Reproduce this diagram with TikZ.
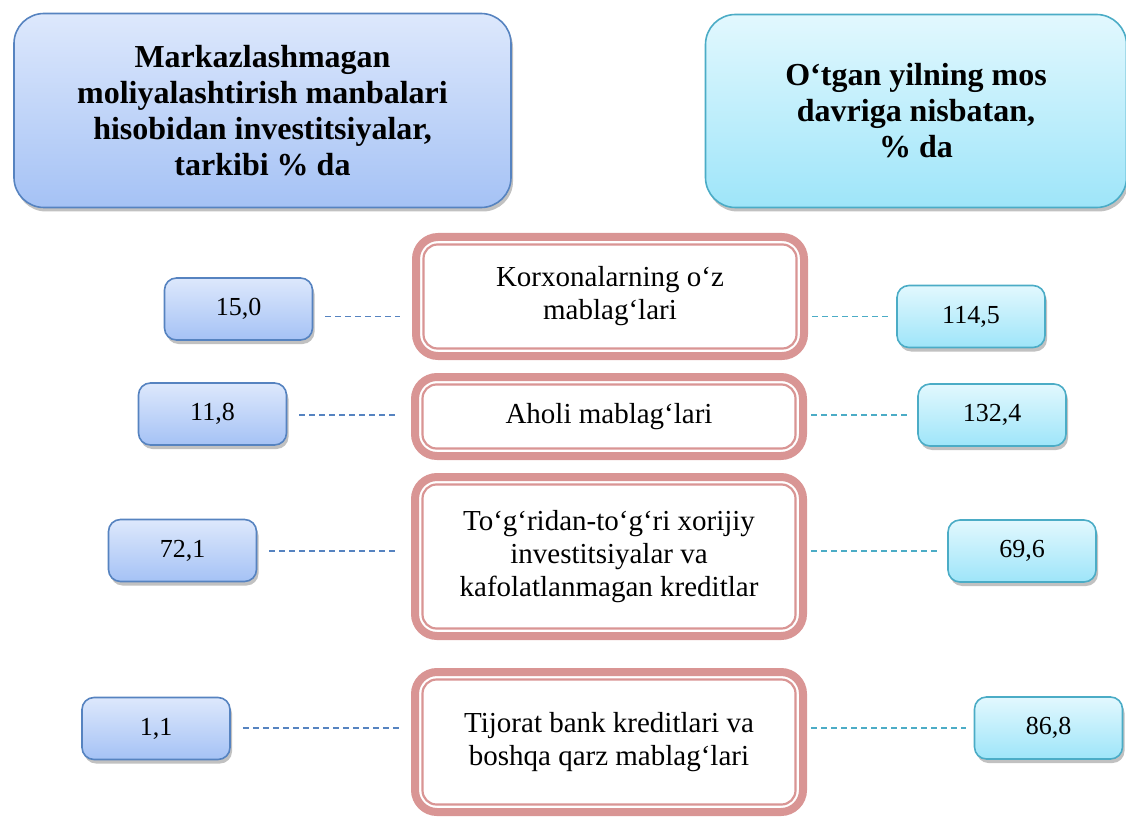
\documentclass[tikz,border=0pt]{standalone}
\usepackage{fontspec}
\setmainfont{Liberation Serif}
\usetikzlibrary{positioning,shadows}

\definecolor{blueline}{HTML}{5683C0}
\definecolor{bluetop}{HTML}{DDE8FC}
\definecolor{bluebot}{HTML}{A5C2F5}
\definecolor{cyanline}{HTML}{4BACC6}
\definecolor{cyantop}{HTML}{E2F8FE}
\definecolor{cyanbot}{HTML}{9EE5F9}
\definecolor{pinkline}{HTML}{D99594}

\begin{document}
\begin{tikzpicture}[x=1pt,y=-1pt,
    shade/.style={drop shadow={shadow xshift=2pt,shadow yshift=-4pt,opacity=.35,fill=black!70}},
    bluebox/.style={shade,draw=blueline,line width=1.6pt,top color=bluetop,bottom color=bluebot},
    cyanbox/.style={shade,draw=cyanline,line width=1.6pt,top color=cyantop,bottom color=cyanbot},
    head/.style={rounded corners=30pt,align=center,font=\bfseries\fontsize{32}{36}\selectfont},
    num/.style={rounded corners=12pt,minimum width=148pt,minimum height=62pt,font=\fontsize{26}{30}\selectfont},
    kbox/.style={draw=pinkline,line width=8pt,rounded corners=22pt,fill=white,minimum width=388pt,align=center,font=\fontsize{29}{33}\selectfont},
    kinner/.style={draw=pinkline,line width=2.2pt,rounded corners=14pt},
    lcon/.style={draw=blueline,line width=1.6pt,dash pattern=on 6pt off 4pt},
    rcon/.style={draw=cyanline,line width=1.6pt,dash pattern=on 6pt off 4pt}]
  \useasboundingbox (0,0) rectangle (1126,818);

  % Headers
  \node[bluebox,head,minimum width=497pt,minimum height=194pt] (hl) at (262.5,110.5)
    {Markazlashmagan\\moliyalashtirish manbalari\\hisobidan investitsiyalar,\\tarkibi \% da};
  \node[cyanbox,head,minimum width=421pt,minimum height=193pt] (hr) at (916,111)
    {O‘tgan yilning mos\\davriga nisbatan,\\\% da};

  % Sources in the middle
  \node[kbox,minimum height=119pt] (c1) at (610,296.5) {Korxonalarning o‘z\\mablag‘lari};
  \node[kbox,minimum height=79pt]  (c2) at (609,416.5) {Aholi mablag‘lari};
  \node[kbox,minimum height=159pt] (c3) at (609,556.5)
    {To‘g‘ridan-to‘g‘ri xorijiy\\investitsiyalar va\\kafolatlanmagan kreditlar};
  \node[kbox,minimum height=140pt] (c4) at (609,742)
    {Tijorat bank kreditlari va\\boshqa qarz mablag‘lari};
  \foreach \i in {1,...,4}
    \draw[kinner] ([shift={(11.5,11.5)}]c\i.north west) rectangle ([shift={(-11.5,-11.5)}]c\i.south east);

  % Shares, % of total
  \node[bluebox,num] (l1) at (238.5,309) {15,0};
  \node[bluebox,num] (l2) at (212.5,414) {11,8};
  \node[bluebox,num] (l3) at (182.5,550.5) {72,1};
  \node[bluebox,num] (l4) at (156,728.5) {1,1};

  % Growth against last year
  \node[cyanbox,num] (r1) at (971,316.5) {114,5};
  \node[cyanbox,num] (r2) at (992,415) {132,4};
  \node[cyanbox,num] (r3) at (1022,551) {69,6};
  \node[cyanbox,num] (r4) at (1048.5,728) {86,8};

  % Dashed links
  \foreach \i in {1,...,4} {
    \draw[lcon,shorten <=12pt,shorten >=12pt] (l\i.east |- r\i) -- (c\i.west |- r\i);
    \draw[rcon,shorten <=4pt,shorten >=8pt] (c\i.east |- r\i) -- (r\i.west);
  }
\end{tikzpicture}
\end{document}
